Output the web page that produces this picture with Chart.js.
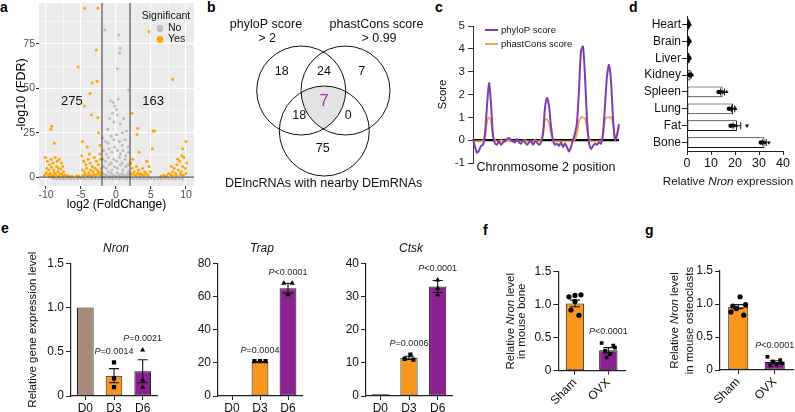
<!DOCTYPE html>
<html>
<head>
<meta charset="utf-8">
<script src="https://cdn.jsdelivr.net/npm/chart.js@4.4.1/dist/chart.umd.min.js"></script>
<style>
  body { margin: 0; background: #fff; }
  #fig { position: relative; width: 795px; height: 412px; overflow: hidden; font-family: 'Liberation Sans', Arial, sans-serif; }
  #fig canvas { position: absolute; }
  .tag { position: absolute; font-weight: bold; font-size: 14px; line-height: 14px; color: #000; }
</style>
</head>
<body>
<div id="fig">
  <div class="tag" style="left:0px;top:0px">a</div>
  <div class="tag" style="left:207px;top:0px">b</div>
  <div class="tag" style="left:435px;top:0px">c</div>
  <div class="tag" style="left:629px;top:0px">d</div>
  <div class="tag" style="left:1px;top:221px">e</div>
  <div class="tag" style="left:483px;top:223px">f</div>
  <div class="tag" style="left:645px;top:223px">g</div>
</div>
<script>
// ---- a: volcano (log2 FC, -log10 FDR) ----
const volcanoYes = [
  [-4.5,95],[-2.6,95],[-2.8,71.5],[-5.4,62],[-3.4,53],[-2.7,54],[-3.7,47],[-4.5,40],[-3.5,35],[-2.6,33.5],
  [-2.5,25],[-9.2,28.7],[-9.3,27],[-8.8,19],[4.7,82],[8.1,55],[2.3,36],[3.1,27.5],[3.0,24],[5.3,26],
  [5.5,26],[5.2,16],[10,20],[9.5,16],[-4.8,20],[-4.1,17],[-3.8,13],[-2.3,18],[-2.3,13],
  [-10.1,11],[-9.8,9],[-9.5,7],[-9.3,10],[-9.0,8],[-8.7,11],[-8.4,9],[-8.1,10],[-7.8,8],[-7.6,6],
  [-9.9,5],[-9.6,4],[-9.2,5.5],[-8.9,4],[-8.5,6],[-8.2,5],[-7.9,4.5],[-7.5,3],[-10,2.5],[-9.7,1.5],
  [-9.4,2],[-9.1,1],[-8.8,2.5],[-8.6,1.5],[-8.3,3],[-8.0,2],[-7.7,1.5],[-7.3,1],[-7.0,0.8],[-6.7,0.5],
  [-6.3,0.5],[-10.2,1],[-9.5,0.5],[-8.9,0.8],[-8.2,0.5],[-7.6,0.6],
  [-4.9,12],[-4.6,9],[-4.3,7],[-4.0,10],[-3.7,8],[-3.4,6],[-3.1,11],[-2.8,9],[-2.5,7],[-2.2,10],
  [-4.8,4],[-4.5,3],[-4.2,5],[-3.9,2.5],[-3.6,4],[-3.3,3],[-3.0,5],[-2.7,4],[-2.4,3],[-2.1,5],
  [-4.7,1],[-4.4,1.5],[-4.1,0.8],[-3.8,1.2],[-3.5,0.8],[-3.2,1.5],[-2.9,1],[-2.6,2],[-2.3,1],[-2.1,2.5],
  [-5.3,0.5],[-5.6,0.8],
  [2.1,8],[2.3,5],[2.6,3],[2.9,6],[3.2,4],[3.5,2],[3.8,5],[4.1,3],[4.4,9],[4.7,6],
  [2.2,2],[2.5,1.5],[2.8,1],[3.1,2],[3.4,1],[3.7,1.5],[4.0,1],[4.3,2],[4.6,1],[4.9,3],[3.3,14],[2.4,10],
  [6.4,0.5],[6.8,1],[7.2,0.8],[7.5,2],[7.8,1.5],[8.1,3],[8.3,5],[8.5,2],[8.7,7],[8.9,4],
  [9.1,9],[9.3,3],[9.5,6],[9.7,11],[9.9,5],[10.1,8],[8.0,1],[8.6,1],[9.2,1.5],[9.6,1],
  [10,2],[9.4,12],[8.8,10],[7.9,6]
];
const volcanoNo = [
  [-1.6,83],[0.4,80],[0.6,72.6],[0.5,70],[0.2,61],[1.8,49],[-0.8,43],[-0.4,42],[0.3,44],[-0.2,40],
  [0.1,38],[-0.5,36],[0.2,35],[-0.9,33],[1.1,33],[-0.3,31],[0.6,30],[1.5,26],[-1.2,27],[0.9,25],
  [-1.9,22],[-1.5,20],[-1.1,19],[-0.7,23],[-0.3,21],[0.1,24],[0.5,20],[0.9,18],[1.3,21],[1.7,17],
  [-1.8,15],[-1.4,13],[-1.0,16],[-0.6,14],[-0.2,17],[0.2,15],[0.6,13],[1.0,15],[1.4,12],[1.8,14],
  [-1.9,10],[-1.5,9],[-1.1,11],[-0.7,8],[-0.3,10],[0.1,9],[0.5,11],[0.9,8],[1.3,10],[1.7,7],
  [-1.8,6],[-1.4,5],[-1.0,7],[-0.6,4],[-0.2,6],[0.2,5],[0.6,7],[1.0,4],[1.4,6],[1.8,3],
  [-1.9,2],[-1.5,1.5],[-1.1,3],[-0.7,2],[-0.3,1],[0.1,2.5],[0.5,1.5],[0.9,2],[1.3,1],[1.7,2],
  [-1.7,0.5],[-1.2,0.8],[-0.8,0.5],[-0.4,0.7],[0,0.4],[0.4,0.6],[0.8,0.4],[1.2,0.7],[1.6,0.5],[1.95,1],
  [-9,-0.8],[-8.5,-1],[-8,-0.9],[-7.5,-1],[-7,-0.8],[-6.5,-1],[-6,-0.9],[-5.5,-1],[-5,-0.8],[-4.5,-1],
  [-4,-0.9],[-3.5,-1],[-3,-0.8],[-2.5,-1],[-2,-0.9],[-1.5,-1],[-1,-0.8],[-0.5,-1],[0,-0.9],[0.5,-1],
  [1,-0.8],[1.5,-1],[2,-0.9],[2.5,-1],[3,-0.8],[3.5,-1],[4,-0.9],[4.5,-1],[5,-0.8],[5.5,-1],
  [6,-0.9],[6.5,-1],[7,-0.8],[7.5,-1],[8,-0.9],[8.5,-1],[9,-0.8],[9.5,-1]
];
const fcCutoff = 2;
const volcanoCounts = ['275', '163'];

// ---- b: venn ----
const vennSets = ['phyloP score', 'phastCons score', 'DElncRNAs with nearby DEmRNAs'];
const vennThresholds = ['> 2', '> 0.99'];
const vennCounts = [18, 24, 7, 7, 18, 0, 75];

// ---- c: conservation along chromosome 2 ----
const phyloP = [0.05,-0.3,-0.55,-0.45,-0.25,-0.2,0.3,1.5,2.5,1.6,0.2,-0.15,-0.2,-0.05,-0.2,-0.1,-0.05,0.05,0.1,0.0,
  -0.05,-0.1,0.05,-0.1,-0.15,0.0,-0.1,-0.2,-0.1,-0.05,-0.2,-0.05,-0.1,-0.2,-0.1,0.3,1.4,1.85,1.5,0.6,
  0.0,-0.2,-0.15,-0.25,-0.1,-0.3,-0.15,-0.3,-0.5,-0.3,0.0,0.3,0.8,2.2,3.9,4.1,2.8,0.9,-0.1,-0.38,
  -0.25,-0.15,-0.2,-0.1,-0.15,0.3,1.5,2.8,3.3,2.6,1.0,0.0,0.2,0.7];
const phastCons = [-0.05,-0.05,-0.05,-0.05,-0.05,0,0.1,0.8,1.0,0.85,0.2,0.0,
  -0.05,-0.05,0,-0.05,-0.05,0,0,-0.05,-0.05,-0.05,0,-0.05,-0.05,-0.05,0,-0.05,-0.05,-0.05,-0.05,0,-0.05,-0.05,0,
  0.2,0.9,0.9,0.75,0.3,0.0,
  -0.05,-0.05,-0.05,-0.05,-0.05,-0.05,-0.05,-0.05,-0.05,-0.05,0.05,
  0.3,0.85,1.0,1.0,0.95,0.5,0.05,
  -0.05,-0.05,-0.05,-0.05,-0.05,-0.05,
  0.2,0.9,1.0,1.0,1.0,0.7,0.1,0.3,0.6];

// ---- d: Nron across tissues ----
const tissues = ['Heart', 'Brain', 'Liver', 'Kidney', 'Spleen', 'Lung', 'Fat', 'Bone'];
const tissueMean = [1.0, 1.0, 1.0, 1.5, 14.8, 19.2, 20.8, 32.3];
const tissueSem = [0.1, 0.1, 0.1, 0.3, 0.8, 0.7, 1.6, 0.7];
const tissueReps = [[0.6,1.0,1.2,0.9],[0.8,1.1,1.2,0.9],[0.7,1.0,1.3,1.1],[0.9,1.5,2.2,1.3],
  [13.2,14.5,16.5,15.0],[17.5,18.5,20.2,19.8],[18.2,19.5,20.5,25.0],[30.8,31.8,32.5,34.1]];

// ---- e: osteoclast differentiation time course ----
const days = ['D0', 'D3', 'D6'];
const nronMean = [1.0, 0.23, 0.28];
const nronSem = [0, 0.08, 0.13];
const nronReps = [[], [0.38, 0.2, 0.1], [0.52, 0.18, 0.1]];
const nronP = ['', 'P=0.0014', 'P=0.0021'];
const trapMean = [0.3, 20.5, 65];
const trapSem = [0, 0.3, 3];
const trapReps = [[], [21, 21, 21], [68, 68, 61]];
const trapP = ['', 'P=0.0004', 'P<0.0001'];
const ctskMean = [0.5, 11.5, 33];
const ctskSem = [0, 0.5, 1.8];
const ctskReps = [[], [12.5, 11.2, 11.0], [35, 32.5, 30.5]];
const ctskP = ['', 'P=0.0006', 'P<0.0001'];

// ---- f, g: Sham vs OVX ----
const groups = ['Sham', 'OVX'];
const boneMean = [1.02, 0.31];
const boneSem = [0.05, 0.04];
const boneReps = [[1.12, 1.14, 1.15, 1.05, 0.92, 0.84], [0.42, 0.38, 0.35, 0.3, 0.25, 0.2]];
const boneP = ['', 'P<0.0001'];
const oclMean = [0.96, 0.12];
const oclSem = [0.03, 0.02];
const oclReps = [[1.11, 0.97, 0.99, 0.93, 0.88, 0.83], [0.2, 0.15, 0.13, 0.1, 0.08, 0.07]];
const oclP = ['', 'P<0.0001'];

const FAM = "'Liberation Sans', Arial, sans-serif";
const ORANGE = '#F8961E', PURPLE = '#8B2290', BROWN = '#A88A7B';
Chart.defaults.font.family = FAM;
Chart.defaults.color = '#111';
Chart.defaults.animation = false;
Chart.defaults.events = [];
Chart.defaults.layout.autoPadding = false;
Chart.defaults.plugins.legend.display = false;
Chart.defaults.plugins.tooltip.enabled = false;

const font = (size, style) => (style ? style + ' ' : '') + size + 'px ' + FAM;

function rich(c, parts, x, y) {
  let w = 0;
  parts.forEach(p => { c.font = p[1]; w += c.measureText(p[0]).width; });
  let cx = x - w / 2;
  c.textAlign = 'left';
  c.textBaseline = 'middle';
  parts.forEach(p => { c.font = p[1]; c.fillText(p[0], cx, y); cx += c.measureText(p[0]).width; });
}

const pText = t => [['P', font(9, 'italic')], [t.slice(1), font(9)]];

const zeroPad = s => { s.paddingTop = s.paddingBottom = s.paddingLeft = s.paddingRight = 0; };
const fixW = w => s => { s.width = w; zeroPad(s); };
const fixH = h => s => { s.height = h; zeroPad(s); };

function canvasAt(id, left, top, width, height) {
  const cv = document.createElement('canvas');
  cv.id = id;
  cv.width = width;
  cv.height = height;
  cv.style.cssText = `left:${left}px;top:${top}px;width:${width}px;height:${height}px`;
  document.getElementById('fig').appendChild(cv);
  return cv;
}

// ---------- a ----------
const volcanoDeco = {
  id: 'volcanoDeco',
  beforeDraw(chart) {
    const {ctx, chartArea: a} = chart;
    ctx.save();
    ctx.fillStyle = '#EBEBEB';
    ctx.fillRect(a.left, a.top, a.width, a.height);
    ctx.restore();
  },
  afterDatasetsDraw(chart) {
    const {ctx, chartArea: a, scales: {x, y}} = chart;
    ctx.save();
    ctx.strokeStyle = '#3a3a3a';
    ctx.lineWidth = 1;
    ctx.beginPath();
    [-fcCutoff, fcCutoff].forEach(v => {
      const px = x.getPixelForValue(v);
      ctx.moveTo(px, a.top); ctx.lineTo(px, a.bottom);
    });
    const py = y.getPixelForValue(0);
    ctx.moveTo(a.left, py); ctx.lineTo(a.right, py);
    ctx.stroke();
    ctx.fillStyle = '#111';
    rich(ctx, [[volcanoCounts[0], font(13)]], x.getPixelForValue(-6.3), y.getPixelForValue(42.4));
    rich(ctx, [[volcanoCounts[1], font(13)]], x.getPixelForValue(5.3), y.getPixelForValue(42.4));
    // legend
    const lx = a.right - 34;
    rich(ctx, [['Significant', font(10.5)]], lx + 6, 16);
    [['No', '#BDBDBD', 28.5], ['Yes', '#FFA500', 39.5]].forEach(([t, col, ly]) => {
      ctx.fillStyle = col;
      ctx.beginPath(); ctx.arc(lx, ly, 3.4, 0, Math.PI * 2); ctx.fill();
      ctx.fillStyle = '#111';
      ctx.font = font(10.5); ctx.textAlign = 'left'; ctx.textBaseline = 'middle';
      ctx.fillText(t, lx + 8, ly);
    });
    ctx.restore();
  }
};

const minorX = [-10, -7.5, -5, -2.5, 0, 2.5, 5, 7.5, 10];
const minorY = [0, 12.5, 25, 37.5, 50, 62.5, 75, 87.5];
const isMajor = (v, step) => Math.abs(v % step) < 1e-9;
const ggGrid = step => ({
  color: '#fff',
  lineWidth: c => (c.tick && isMajor(c.tick.value, step) ? 1.1 : 0.5),
  tickColor: c => (c.tick && isMajor(c.tick.value, step) ? '#333' : 'rgba(0,0,0,0)'),
  tickLength: 3
});

new Chart(canvasAt('volcano', 0, 0, 200, 214), {
  type: 'scatter',
  data: {
    datasets: [
      { data: volcanoYes.map(([x, y]) => ({x, y})), backgroundColor: '#FFA500', pointRadius: 1.5, borderWidth: 0 },
      { data: volcanoNo.map(([x, y]) => ({x, y})), backgroundColor: '#BDBDBD', pointRadius: 1.5, borderWidth: 0 }
    ]
  },
  options: {
    responsive: false, devicePixelRatio: 1,
    layout: { padding: { left: 0, top: 3, right: 6, bottom: 0 } },
    scales: {
      x: {
        type: 'linear', min: -11, max: 11.14,
        afterBuildTicks: s => { s.ticks = minorX.map(v => ({value: v})); },
        ticks: { callback: v => (isMajor(v, 5) ? v : ''), font: { size: 10.5 }, color: '#4D4D4D', padding: 0, maxRotation: 0, autoSkip: false },
        grid: ggGrid(5), border: { display: false },
        title: { display: true, text: 'log2 (FoldChange)', font: { size: 12 }, color: '#000', padding: { top: 0, bottom: 2 } },
        afterFit: fixH(28)
      },
      y: {
        type: 'linear', min: -5, max: 98,
        afterBuildTicks: s => { s.ticks = minorY.map(v => ({value: v})); },
        ticks: { callback: v => (isMajor(v, 25) ? v : ''), font: { size: 10.5 }, color: '#4D4D4D', padding: 1, autoSkip: false },
        grid: ggGrid(25), border: { display: false },
        title: { display: true, text: '-log10 (FDR)', font: { size: 12.5 }, color: '#000', padding: { top: 14, bottom: 0 } },
        afterFit: fixW(39)
      }
    }
  },
  plugins: [volcanoDeco]
});

// ---------- b ----------
const vennCircles = [[106.2, 90.5, 44.5], [150.5, 90.5, 44.5], [129.3, 131, 45]];
const vennCountPos = [[86.7, 71.7], [129, 72], [166.7, 72], [129, 101.7], [104.3, 116], [153.3, 116], [127.7, 148.3]];
const vennDeco = {
  id: 'vennDeco',
  beforeDatasetsDraw(chart) {
    const ctx = chart.ctx;
    const els = chart.getDatasetMeta(0).data;
    ctx.save();
    els.forEach(p => { ctx.beginPath(); ctx.arc(p.x, p.y, p.options.radius, 0, Math.PI * 2); ctx.clip(); });
    ctx.fillStyle = '#E3E3E3';
    ctx.fillRect(0, 0, chart.width, chart.height);
    ctx.restore();
  },
  afterDatasetsDraw(chart) {
    const {ctx, scales: {x, y}} = chart;
    ctx.save();
    ctx.fillStyle = '#111';
    vennCounts.forEach((n, i) => {
      const [vx, vy] = vennCountPos[i];
      if (i === 3) { ctx.fillStyle = '#A03AA6'; rich(ctx, [[String(n), font(16.5)]], x.getPixelForValue(vx), y.getPixelForValue(vy)); ctx.fillStyle = '#111'; }
      else rich(ctx, [[String(n), font(12.5)]], x.getPixelForValue(vx), y.getPixelForValue(vy));
    });
    rich(ctx, [[vennSets[0], font(12.5)]], x.getPixelForValue(71), y.getPixelForValue(25));
    rich(ctx, [[vennThresholds[0], font(12.5)]], x.getPixelForValue(72), y.getPixelForValue(39));
    rich(ctx, [[vennSets[1], font(12.5)]], x.getPixelForValue(181.5), y.getPixelForValue(25));
    rich(ctx, [[vennThresholds[1], font(12.5)]], x.getPixelForValue(184), y.getPixelForValue(39));
    rich(ctx, [[vennSets[2], font(12.5)]], x.getPixelForValue(128.7), y.getPixelForValue(183.3));
    ctx.restore();
  }
};
new Chart(canvasAt('venn', 195, 0, 240, 195), {
  type: 'bubble',
  data: { datasets: [{ data: vennCircles.map(([x, y, r]) => ({x, y, r})), backgroundColor: 'rgba(0,0,0,0)', borderColor: '#111', borderWidth: 1, clip: false }] },
  options: {
    responsive: false, devicePixelRatio: 1,
    layout: { padding: 0, autoPadding: false },
    scales: { x: { display: false, min: 0, max: 240 }, y: { display: false, min: 0, max: 195, reverse: true } }
  },
  plugins: [vennDeco]
});

// ---------- c ----------
const consDeco = {
  id: 'consDeco',
  beforeDatasetsDraw(chart) {
    const {ctx, chartArea: a, scales: {y}} = chart;
    ctx.save();
    ctx.strokeStyle = '#000';
    ctx.lineWidth = 2.2;
    ctx.beginPath();
    ctx.moveTo(a.left, y.getPixelForValue(0)); ctx.lineTo(a.right, y.getPixelForValue(0));
    ctx.stroke();
    ctx.restore();
  },
  afterDatasetsDraw(chart) {
    const {ctx, chartArea: a} = chart;
    ctx.save();
    chart.data.datasets.forEach((ds, i) => {
      const ly = a.top + 4 + i * 14;
      ctx.strokeStyle = ds.borderColor; ctx.lineWidth = 2;
      ctx.beginPath(); ctx.moveTo(a.left + 12, ly); ctx.lineTo(a.left + 25, ly); ctx.stroke();
      ctx.fillStyle = '#111'; ctx.font = font(9.5); ctx.textAlign = 'left'; ctx.textBaseline = 'middle';
      ctx.fillText(ds.label, a.left + 28, ly);
    });
    ctx.restore();
  }
};
new Chart(canvasAt('cons', 430, 0, 195, 175), {
  type: 'line',
  data: {
    labels: phyloP.map((_, i) => i),
    datasets: [
      { label: 'phyloP score', data: phyloP, borderColor: '#7E3DB0', borderWidth: 2, pointRadius: 0, tension: 0.25 },
      { label: 'phastCons score', data: phastCons, borderColor: '#F2A24B', borderWidth: 1.8, pointRadius: 0, tension: 0.25 }
    ]
  },
  options: {
    responsive: false, devicePixelRatio: 1,
    layout: { padding: { left: 0, top: 26, right: 6, bottom: 0 } },
    scales: {
      x: {
        type: 'category', offset: false, grid: { display: false }, border: { display: false }, ticks: { display: false },
        title: { display: true, text: 'Chronmosome 2 position', font: { size: 12.5 }, color: '#111', padding: 0 },
        afterFit: fixH(12)
      },
      y: {
        min: -1, max: 5,
        ticks: { stepSize: 1, font: { size: 11.5 }, color: '#222', padding: 3 },
        grid: { drawOnChartArea: false, tickLength: 5, color: '#333' },
        border: { color: '#333', width: 1 },
        title: { display: true, text: 'Score', font: { size: 11.5 }, color: '#111', padding: { top: 6, bottom: 0 } },
        afterFit: fixW(43)
      }
    }
  },
  plugins: [consDeco]
});

// ---------- d ----------
const tissueShapes = ['circle', 'rect', 'triangle', 'triangle'];
const tissueRot = [0, 0, 0, 180];
const tissuePts = [], tissuePtStyle = [], tissuePtRot = [];
tissueReps.forEach((vals, i) => vals.forEach((v, k) => {
  tissuePts.push({x: v, y: i});
  tissuePtStyle.push(tissueShapes[k]);
  tissuePtRot.push(tissueRot[k]);
}));
const tissueDeco = {
  id: 'tissueDeco',
  afterDatasetsDraw(chart) {
    const {ctx, chartArea: a, scales: {x, y}} = chart;
    ctx.save();
    ctx.strokeStyle = '#111'; ctx.lineWidth = 1;
    tissueMean.forEach((m, i) => {
      const py = y.getPixelForValue(i);
      const x1 = x.getPixelForValue(m - tissueSem[i]), x2 = x.getPixelForValue(m + tissueSem[i]);
      ctx.beginPath();
      ctx.moveTo(x1, py); ctx.lineTo(x2, py);
      ctx.moveTo(x1, py - 3.5); ctx.lineTo(x1, py + 3.5);
      ctx.moveTo(x2, py - 3.5); ctx.lineTo(x2, py + 3.5);
      ctx.stroke();
    });
    ctx.fillStyle = '#111';
    rich(ctx, [['Relative ', font(11.7)], ['Nron', font(11.7, 'italic')], [' expression', font(11.7)]], a.left + 41, a.bottom + 31);
    ctx.restore();
  }
};
new Chart(canvasAt('tissue', 628, 10, 167, 181), {
  type: 'bar',
  data: {
    labels: tissues,
    datasets: [
      { type: 'scatter', data: tissuePts, xAxisID: 'x', yAxisID: 'yp', pointStyle: tissuePtStyle, pointRotation: tissuePtRot, pointRadius: 2.3, backgroundColor: '#000', borderColor: '#000', borderWidth: 0 },
      { type: 'bar', indexAxis: 'y', grouped: false, data: tissueMean, xAxisID: 'x', yAxisID: 'y', backgroundColor: '#fff', borderColor: '#111', borderWidth: 1, borderSkipped: false, barPercentage: 0.63, categoryPercentage: 1 }
    ]
  },
  options: {
    responsive: false, devicePixelRatio: 1, indexAxis: 'y',
    layout: { padding: { left: 0, top: 6, right: 12, bottom: 0 } },
    scales: {
      x: {
        type: 'linear', position: 'bottom', min: 0, max: 40,
        ticks: { stepSize: 10, font: { size: 12.5 }, color: '#111', padding: 1 },
        grid: { drawOnChartArea: false, tickLength: 4, color: '#222' },
        border: { color: '#222', width: 1 },
        afterFit: fixH(40)
      },
      y: {
        type: 'category', position: 'left', offset: true,
        ticks: { font: { size: 12 }, color: '#111', padding: 1, autoSkip: false },
        grid: { offset: false, drawOnChartArea: false, tickLength: 5, color: '#222' },
        border: { color: '#222', width: 1 },
        afterFit: fixW(59)
      },
      yp: { type: 'linear', axis: 'y', display: false, offset: false, min: -0.5, max: 7.5, reverse: true }
    }
  },
  plugins: [tissueDeco]
});

// ---------- e, f, g: bars with replicate dots ----------
function dotBars(cv, o) {
  const pts = [], styles = [];
  o.reps.forEach((vals, i) => vals.forEach((v, k) => {
    pts.push({x: i + o.jitter[i][k], y: v});
    styles.push(o.marks[i]);
  }));
  const deco = {
    id: 'dotBarDeco',
    afterDatasetsDraw(chart) {
      const {ctx, chartArea: a, scales: {x, y}} = chart;
      ctx.save();
      ctx.strokeStyle = '#111'; ctx.lineWidth = 1.1;
      o.means.forEach((m, i) => {
        if (!o.sems[i]) return;
        const px = x.getPixelForValue(i);
        const y1 = y.getPixelForValue(m + o.sems[i]), y2 = y.getPixelForValue(m - o.sems[i]);
        ctx.beginPath();
        ctx.moveTo(px, y1); ctx.lineTo(px, y2);
        ctx.moveTo(px - o.cap, y1); ctx.lineTo(px + o.cap, y1);
        ctx.moveTo(px - o.cap, y2); ctx.lineTo(px + o.cap, y2);
        ctx.stroke();
      });
      ctx.fillStyle = '#222';
      o.pvals.forEach((t, i) => {
        if (!t) return;
        const top = Math.max(o.means[i] + o.sems[i], ...o.reps[i]);
        rich(ctx, pText(t), x.getPixelForValue(i), y.getPixelForValue(top) - 11);
      });
      ctx.fillStyle = '#111';
      if (o.title) rich(ctx, [[o.title, font(12, 'italic')]], (a.left + a.right) / 2 + 2, 9);
      if (o.yLines) {
        const cy = (a.top + a.bottom) / 2;
        o.yLines.forEach((parts, j) => {
          ctx.save();
          ctx.translate(o.yLineX[j], cy);
          ctx.rotate(-Math.PI / 2);
          rich(ctx, parts, 0, 0);
          ctx.restore();
        });
      }
      ctx.restore();
    }
  };
  return new Chart(cv, {
    type: 'bar',
    data: {
      labels: o.labels,
      datasets: [
        { type: 'scatter', data: pts, xAxisID: 'xp', yAxisID: 'y', pointStyle: styles, pointRadius: o.dot, backgroundColor: '#000', borderColor: '#000', borderWidth: 0 },
        { type: 'bar', grouped: false, data: o.means, xAxisID: 'x', yAxisID: 'y', backgroundColor: o.colors, borderColor: '#1a1a1a', borderWidth: 1, borderSkipped: false, barPercentage: o.barPct, categoryPercentage: 1 }
      ]
    },
    options: {
      responsive: false, devicePixelRatio: 1,
      layout: { padding: o.pad },
      scales: {
        x: {
          type: 'category', offset: true,
          grid: { offset: false, drawOnChartArea: false, tickLength: 4, color: '#222' },
          border: { color: '#222', width: 1.2 },
          ticks: { font: { size: 12 }, color: '#111', padding: 1, minRotation: o.rot, maxRotation: o.rot, autoSkip: false },
          afterFit: fixH(o.xH)
        },
        xp: { type: 'linear', axis: 'x', display: false, offset: false, min: -0.5, max: o.labels.length - 0.5 },
        y: {
          type: 'linear', min: 0, max: o.yMax,
          ticks: { stepSize: o.yStep, font: { size: 12 }, color: '#111', padding: 2, callback: o.fmt },
          grid: { drawOnChartArea: false, tickLength: 5, color: '#222' },
          border: { color: '#222', width: 1.2 },
          title: o.yTitle ? { display: true, text: o.yTitle, font: { size: 11.5 }, color: '#111', padding: { top: 6, bottom: 0 } } : { display: false },
          afterFit: fixW(o.yW)
        }
      }
    },
    plugins: [deco]
  });
}

const dec1 = v => (v === 0 ? '0' : v.toFixed(1));
const dayColors = [BROWN, ORANGE, PURPLE];
const dayMarks = ['rect', 'rect', 'triangle'];

dotBars(canvasAt('nron', 20, 240, 150, 172), {
  labels: days, means: nronMean, sems: nronSem, reps: nronReps, pvals: nronP,
  jitter: [[], [0, 0, 0], [0, 0, 0]], marks: dayMarks, colors: dayColors,
  yMax: 1.5, yStep: 0.5, fmt: dec1, yTitle: 'Relative gene expression level', title: 'Nron',
  pad: { left: 0, top: 23.3, right: 13, bottom: 0 }, yW: 51, xH: 16, rot: 0, barPct: 0.58, cap: 5, dot: 3
});
dotBars(canvasAt('trap', 180, 240, 138, 172), {
  labels: days, means: trapMean, sems: trapSem, reps: trapReps, pvals: trapP,
  jitter: [[], [-0.2, 0, 0.2], [-0.15, 0.15, 0]], marks: dayMarks, colors: dayColors,
  yMax: 80, yStep: 20, title: 'Trap',
  pad: { left: 0, top: 23.3, right: 16, bottom: 0 }, yW: 38, xH: 16, rot: 0, barPct: 0.6, cap: 5, dot: 3
});
dotBars(canvasAt('ctsk', 328, 240, 140, 172), {
  labels: days, means: ctskMean, sems: ctskSem, reps: ctskReps, pvals: ctskP,
  jitter: [[], [0.05, -0.15, 0.15], [0, 0, 0]], marks: dayMarks, colors: dayColors,
  yMax: 40, yStep: 10, title: 'Ctsk',
  pad: { left: 0, top: 23.3, right: 16, bottom: 0 }, yW: 38, xH: 16, rot: 0, barPct: 0.6, cap: 5, dot: 3
});

const nronLine = () => [['Relative ', font(11.5)], ['Nron', font(11.5, 'italic')], [' level', font(11.5)]];
dotBars(canvasAt('bone', 500, 240, 135, 172), {
  labels: groups, means: boneMean, sems: boneSem, reps: boneReps, pvals: boneP,
  jitter: [[-0.18, 0, 0.18, 0, -0.12, 0.12], [-0.2, 0.15, 0.2, -0.1, 0.05, -0.05]], marks: ['circle', 'rect'], colors: [ORANGE, PURPLE],
  yMax: 1.5, yStep: 0.5, fmt: dec1,
  yLines: [nronLine(), [['in mouse bone', font(11.5)]]], yLineX: [10.5, 21.5],
  pad: { left: 0, top: 31.7, right: 10, bottom: 0 }, yW: 58.3, xH: 41.3, rot: 45, barPct: 0.55, cap: 5, dot: 2.6
});
dotBars(canvasAt('ocl', 662, 240, 133, 172), {
  labels: groups, means: oclMean, sems: oclSem, reps: oclReps, pvals: oclP,
  jitter: [[0.05, -0.15, 0.2, -0.05, -0.2, 0.15], [-0.2, 0.15, -0.05, 0.2, 0.05, -0.12]], marks: ['circle', 'rect'], colors: [ORANGE, PURPLE],
  yMax: 1.5, yStep: 0.5, fmt: dec1,
  yLines: [nronLine(), [['in mouse osteoclasts', font(11.5)]]], yLineX: [13, 28],
  pad: { left: 0, top: 31, right: 2, bottom: 0 }, yW: 58, xH: 42, rot: 45, barPct: 0.55, cap: 5, dot: 2.6
});
</script>
</body>
</html>
